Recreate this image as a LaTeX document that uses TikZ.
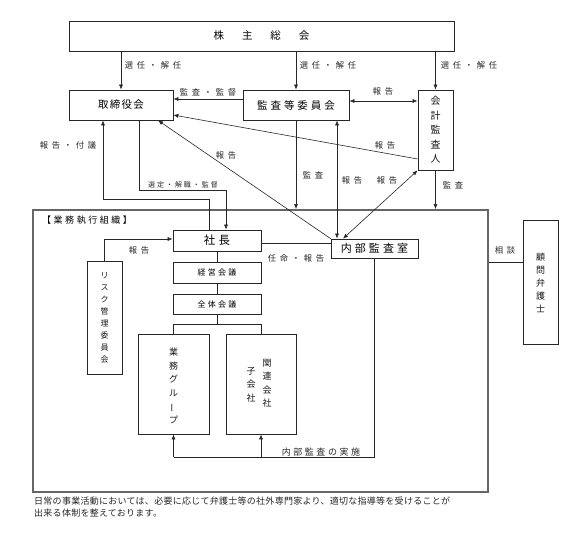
\documentclass[tikz,border=0pt]{standalone}
\usepackage{fontspec}
\usepackage{graphicx}
\usetikzlibrary{arrows.meta}
\newfontfamily\jp{Noto Sans CJK JP}
\newfontfamily\jpa[LetterSpace=12]{Noto Sans CJK JP}
\newfontfamily\jps[LetterSpace=28]{Noto Sans CJK JP}
\newfontfamily\jpw[LetterSpace=45]{Noto Sans CJK JP}
\newfontfamily\jpn[LetterSpace=3]{Noto Sans CJK JP}
\begin{document}
\begin{tikzpicture}[x=1pt,y=-1pt,
  box/.style={draw=black!85, line width=0.7pt, fill=white, inner sep=0pt, text=black},
  ln/.style={draw=black!85, line width=0.6pt},
  arr/.style={ln, -{Latex[length=5pt,width=4pt]}},
  darr/.style={ln, {Latex[length=5pt,width=4pt]}-{Latex[length=5pt,width=4pt]}},
  lbl/.style={font=\jpw\fontsize{8.3}{10}\selectfont, inner sep=1pt, text=black!85},
  slbl/.style={font=\jps\fontsize{7}{9}\selectfont, inner sep=1pt, text=black!85},
  vtxt/.style={align=center, inner sep=0pt, text=black!90},
]
\useasboundingbox (0,0) rectangle (565,541);

% frame of business organisation
\node[draw=black!60, line width=1.8pt, minimum width=455pt, minimum height=282pt, inner sep=0pt] (frame) at (260.5,351) {};
\node[anchor=west, font=\jps\fontsize{9}{11}\selectfont, inner sep=0pt] (framelbl) at (42,220) {【業務執行組織】};

% top boxes
\node[box, minimum width=385pt, minimum height=30pt, font=\jp\fontsize{10.5}{12}\selectfont] (kabu) at (261.5,36) {株\hspace{1.7em}主\hspace{1.7em}総\hspace{1.7em}会};
\node[box, minimum width=104pt, minimum height=30pt, font=\jpa\fontsize{10.5}{12}\selectfont] (tori) at (121,105) {取締役会};
\node[box, minimum width=106pt, minimum height=30pt, font=\jps\fontsize{10.5}{12}\selectfont] (kansa) at (296,105) {監査等委員会};
\node[box, minimum width=35pt, minimum height=80pt] (kaikei) at (435.5,130) {};
\node[vtxt, font=\jp\fontsize{10}{14.5}\selectfont] (kaikeiT) at (435.5,130) {会\\計\\監\\査\\人};

% inner boxes
\node[box, minimum width=87pt, minimum height=19pt, font=\jps\fontsize{11}{13}\selectfont] (naibu) at (374.5,248.5) {内部監査室};
\node[box, minimum width=88pt, minimum height=21pt, font=\jps\fontsize{11.5}{13}\selectfont] (shacho) at (217,240.5) {社長};
\node[box, minimum width=88pt, minimum height=21pt, font=\jps\fontsize{8}{10}\selectfont] (keiei) at (217,272.5) {経営会議};
\node[box, minimum width=88pt, minimum height=20pt, font=\jps\fontsize{8}{10}\selectfont] (zentai) at (217,304) {全体会議};
\node[box, minimum width=71pt, minimum height=100pt] (gyomu) at (173.5,384) {};
\node[vtxt, font=\jp\fontsize{9}{13.5}\selectfont] (gyomuT) at (173.5,386) {業\\務\\グ\\ル\\\rotatebox[origin=c]{90}{ー}\\プ};
\node[box, minimum width=70pt, minimum height=100pt] (kanren) at (261,384) {};
\node[vtxt, font=\jp\fontsize{9}{13.5}\selectfont] (kanrenA) at (267,383.5) {関\\連\\会\\社};
\node[vtxt, font=\jp\fontsize{9}{13.5}\selectfont] (kanrenB) at (251,384.5) {子\\会\\社};
\node[box, minimum width=35pt, minimum height=113pt] (risk) at (104.5,317.5) {};
\node[vtxt, font=\jp\fontsize{8}{12}\selectfont] (riskT) at (104.5,318) {リ\\ス\\ク\\管\\理\\委\\員\\会};
\node[box, minimum width=35pt, minimum height=124pt] (komon) at (540.5,282) {};
\node[vtxt, font=\jp\fontsize{9}{13}\selectfont] (komonT) at (540.5,283.5) {顧\\問\\弁\\護\\士};

% connectors from shareholders meeting
\draw[arr] (kabu.south -| tori) -- (tori.north);
\draw[arr] (kabu.south -| kansa) -- (kansa.north);
\draw[arr] (kabu.south -| kaikei) -- (kaikei.north);
\node[lbl] (l1) at (153,65) {選任・解任};
\node[lbl] (l2) at (328,65) {選任・解任};
\node[lbl] (l3) at (469,65) {選任・解任};

% kansa -> tori
\draw[arr] ([yshift=6pt]kansa.west) -- ([yshift=6pt]kansa.west -| tori.east);
\node[lbl] (l4) at (208,92) {監査・監督};
% kansa <-> kaikei
\draw[darr] ([yshift=4pt]kansa.east) -- ([yshift=4pt]kansa.east -| kaikei.west);
\node[lbl] (l5) at (383,91) {報告};
% kaikei -> tori
\draw[arr] ([yshift=-29pt]kaikei.west) -- ([yshift=-10pt]tori.east);
\node[lbl] (l6) at (385,145) {報告};

% shacho -> tori (report)
\draw[arr] ([xshift=-8pt]shacho.north) -- ++(0,-30) -| ([xshift=-18pt]tori.south);
\node[lbl] (l7) at (68,145) {報告・付議};
% tori -> shacho (appoint)
\draw[arr] ([xshift=18pt]tori.south) -- ++(0,70) -| ([xshift=9pt]shacho.north);
\node[slbl] (l8) at (183,185) {選定・解職・監督};
% naibu -> tori
\draw[arr] (naibu.north west) -- ([xshift=37pt]tori.south);
\node[lbl] (l9) at (226,155) {報告};

% kansa -> frame
\draw[arr] (kansa.south) -- (kansa.south |- frame.north);
\node[lbl] (l10) at (313,175) {監査};
% kansa <-> naibu
\draw[darr] ([xshift=41pt]kansa.south) -- ([xshift=41pt]kansa.south |- naibu.north);
\node[lbl] (l11) at (352,180) {報告};
% naibu <-> kaikei
\draw[darr] ([xshift=-31.5pt]naibu.north) -- (kaikei.south west);
\node[lbl] (l12) at (387,180) {報告};
% kaikei -> frame
\draw[arr] (kaikei.south) -- (kaikei.south |- frame.north);
\node[lbl] (l13) at (453,185) {監査};

% shacho -- naibu
\draw[ln] ([yshift=-2.5pt]shacho.east) -- ([yshift=-2.5pt]shacho.east -| naibu.west);
\node[lbl] (l14) at (296,258) {任命・報告};
% hierarchy
\draw[ln] (shacho.south) -- (keiei.north);
\draw[ln] (keiei.south) -- (zentai.north);
\draw[ln] (zentai.south) -- ([yshift=-10pt]zentai.south);
\draw[ln] (gyomu.north) |- ([yshift=-10pt]zentai.south) -| (kanren.north);
% risk -> shacho
\draw[arr] (risk.north) |- ([yshift=1.5pt]shacho.west);
\node[lbl] (l15) at (139,250) {報告};
% internal audit
\draw[ln] (naibu.south) |- ([yshift=-23pt]gyomu.south);
\draw[arr] ([yshift=-23pt]gyomu.south) -- (gyomu.south);
\draw[arr] ([yshift=-23pt]kanren.south) -- (kanren.south);
\node[lbl, font=\jps\fontsize{9}{11}\selectfont] (l16) at (321,452) {内部監査の実施};
% consultation
\draw[ln] ([yshift=20pt]komon.west) -- ([yshift=20pt]komon.west -| frame.east);
\node[lbl] (l17) at (505,250) {相談};

% note
\node[anchor=north west, align=left, inner sep=0pt, font=\jpn\fontsize{9}{12}\selectfont, text=black!85] (note) at (34,497) {日常の事業活動においては、必要に応じて弁護士等の社外専門家より、適切な指導等を受けることが\\出来る体制を整えております。};
\end{tikzpicture}
\end{document}
